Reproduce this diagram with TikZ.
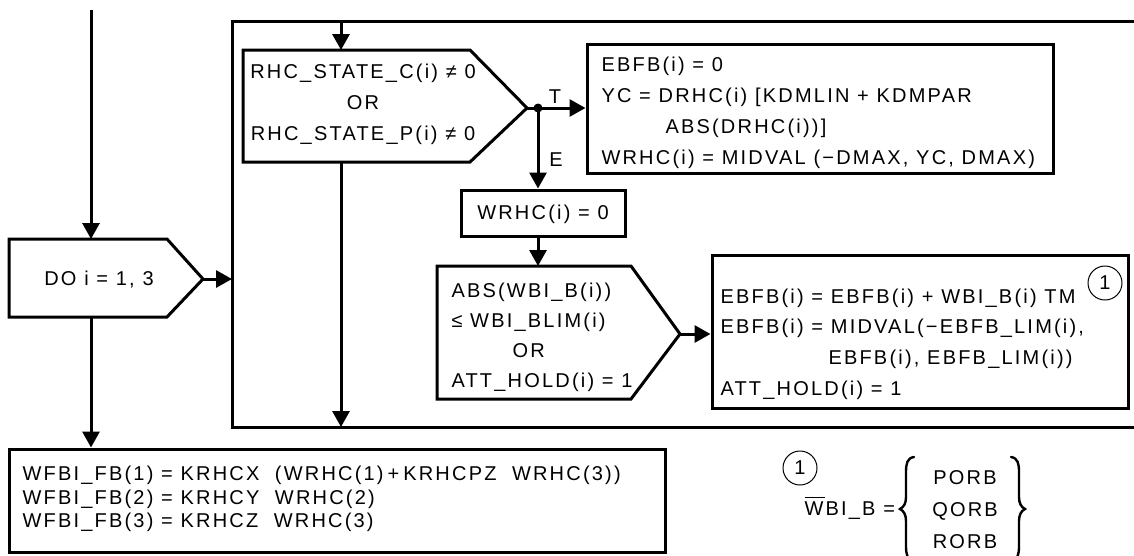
\documentclass[tikz,border=0pt]{standalone}
\usepackage{fontspec}
\setmainfont{Liberation Sans}[LetterSpace=11]
\usetikzlibrary{arrows.meta}
\begin{document}
\begin{tikzpicture}[x=1pt,y=-1pt,
  line width=3pt, line join=miter,
  every node/.style={font=\fontsize{20}{31}\selectfont, inner sep=0pt},
  box/.style={draw, line width=3pt, rectangle, inner sep=0pt},
  arr/.style={-{Triangle[length=16pt,width=17pt]}},
  txt/.style={anchor=west, align=left},
  circ/.style={draw, circle, line width=1pt, minimum size=34pt, inner sep=0pt},
  bracestyle/.style={line width=2.4pt, line cap=round}
]
\useasboundingbox (0,0) rectangle (1134,555);

% ---- loop frame ----
\coordinate (looptr) at (1134,21);
\coordinate (looptl) at (232,21);
\coordinate (loopbl) at (232,427);
\coordinate (loopbr) at (1134,427);
\draw (looptr) -- (looptl) -- (loopbl) -- (loopbr);
\coordinate (looptop) at (341,21);
\coordinate (loopbot) at (341,427);
\coordinate (loopleft) at (232,279);

% ---- DO box ----
\coordinate (donw) at (9,239);
\coordinate (done) at (167,239);
\coordinate (dotip) at (203,279);
\coordinate (dose) at (167,317);
\coordinate (dosw) at (9,317);
\coordinate (dotop) at (91,239);
\coordinate (dobot) at (91,317);
\draw (donw) -- (done) -- (dotip) -- (dose) -- (dosw) -- cycle;
\node (dotxt) at (99,280) {DO i = 1, 3};
\coordinate (start) at (91,10);

% ---- decision 1 ----
\coordinate (d1nw) at (243,50);
\coordinate (d1ne) at (470,50);
\coordinate (d1tip) at (527,108);
\coordinate (d1se) at (470,162);
\coordinate (d1sw) at (243,162);
\coordinate (d1top) at (341,50);
\coordinate (d1bot) at (341,162);
\draw (d1nw) -- (d1ne) -- (d1tip) -- (d1se) -- (d1sw) -- cycle;
\node[align=center] (d1txt) at (363,104) {RHC\_STATE\_C(i) ≠ 0\\OR\\RHC\_STATE\_P(i) ≠ 0};

\coordinate (dot) at (538,108);
\fill (dot) circle (4.5pt);
\node (tlab) at (555,97) {T};
\node (elab) at (556,160) {E};

% ---- EBFB box ----
\node[box, minimum width=466pt, minimum height=129pt] (ebfb) at (820,108.5) {};
\node[txt] (ebfbtxt) at (600,113) {EBFB(i) = 0\\YC = DRHC(i) [KDMLIN + KDMPAR\\\hspace*{64pt}ABS(DRHC(i))]\\WRHC(i) = MIDVAL (−DMAX, YC, DMAX)};

% ---- WRHC box ----
\node[box, minimum width=164pt, minimum height=46pt] (wrhc) at (543,213) {};
\node (wrhctxt) at (543,214) {WRHC(i) = 0};

% ---- decision 2 ----
\coordinate (d2nw) at (437,266);
\coordinate (d2ne) at (631,266);
\coordinate (d2tip) at (680,334);
\coordinate (d2se) at (631,399);
\coordinate (d2sw) at (437,399);
\coordinate (d2top) at (538,266);
\draw (d2nw) -- (d2ne) -- (d2tip) -- (d2se) -- (d2sw) -- cycle;
\node[txt, font=\fontsize{20}{30}\selectfont] (d2txt) at (450,337) {ABS(WBI\_B(i))\\≤ WBI\_BLIM(i)\\\hspace*{61pt}OR\\ATT\_HOLD(i) = 1};

% ---- box 3 ----
\node[box, minimum width=416pt, minimum height=153pt] (box3) at (920,331.5) {};
\node[txt, font=\fontsize{20}{30.7}\selectfont] (b3txt) at (719,344) {EBFB(i) = EBFB(i) + WBI\_B(i) TM\\EBFB(i) = MIDVAL(−EBFB\_LIM(i),\\\hspace*{108pt}EBFB(i), EBFB\_LIM(i))\\ATT\_HOLD(i) = 1};
\node[circ] (c1) at (1105,283) {1};

% ---- bottom box ----
\node[box, minimum width=656pt, minimum height=103pt] (bot) at (337,500.5) {};
\node[txt, font=\fontsize{20}{23.5}\selectfont] (bottxt) at (21,499) {WFBI\_FB(1) = KRHCX\ \ (WRHC(1)\hspace{4pt}+\hspace{4pt}KRHCPZ\ \ WRHC(3))\\WFBI\_FB(2) = KRHCY\ \ WRHC(2)\\WFBI\_FB(3) = KRHCZ\ \ WRHC(3)};

% ---- annotation ----
\node[circ] (c2) at (800,468) {1};
\node[anchor=west] (wbi) at (803,508) {\rlap{\rule[17pt]{20pt}{1pt}}WBI\_B =};
\node[align=center, font=\fontsize{20}{32}\selectfont] (orb) at (965,510) {PORB\\QORB\\RORB};
% braces
\draw[bracestyle] (914,457) .. controls (907,458) and (906,464) .. (906,472)
  -- (906,497) .. controls (906,503) and (904,507) .. (900,509)
  .. controls (904,511) and (906,515) .. (906,521)
  -- (906,546) .. controls (906,554) and (907,560) .. (914,561);
\draw[bracestyle] (1011,457) .. controls (1018,458) and (1019,464) .. (1019,472)
  -- (1019,497) .. controls (1019,503) and (1021,507) .. (1025,509)
  .. controls (1021,511) and (1019,515) .. (1019,521)
  -- (1019,546) .. controls (1019,554) and (1018,560) .. (1011,561);

% ---- connectors ----
\draw[arr] (start) -- (dotop);
\draw[arr] (dobot) -- (bot.north -| dobot);
\draw[arr] (dotip) -- (loopleft);
\draw[arr] (looptop) -- (d1top);
\draw[arr] (d1bot) -- (loopbot);
\draw (d1tip) -- (dot);
\draw[arr] (dot) -- (ebfb.west |- dot);
\draw[arr] (dot) -- (wrhc.north -| dot);
\draw[arr] (wrhc.south -| dot) -- (d2top);
\draw[arr] (d2tip) -- (box3.west |- d2tip);
\end{tikzpicture}
\end{document}
